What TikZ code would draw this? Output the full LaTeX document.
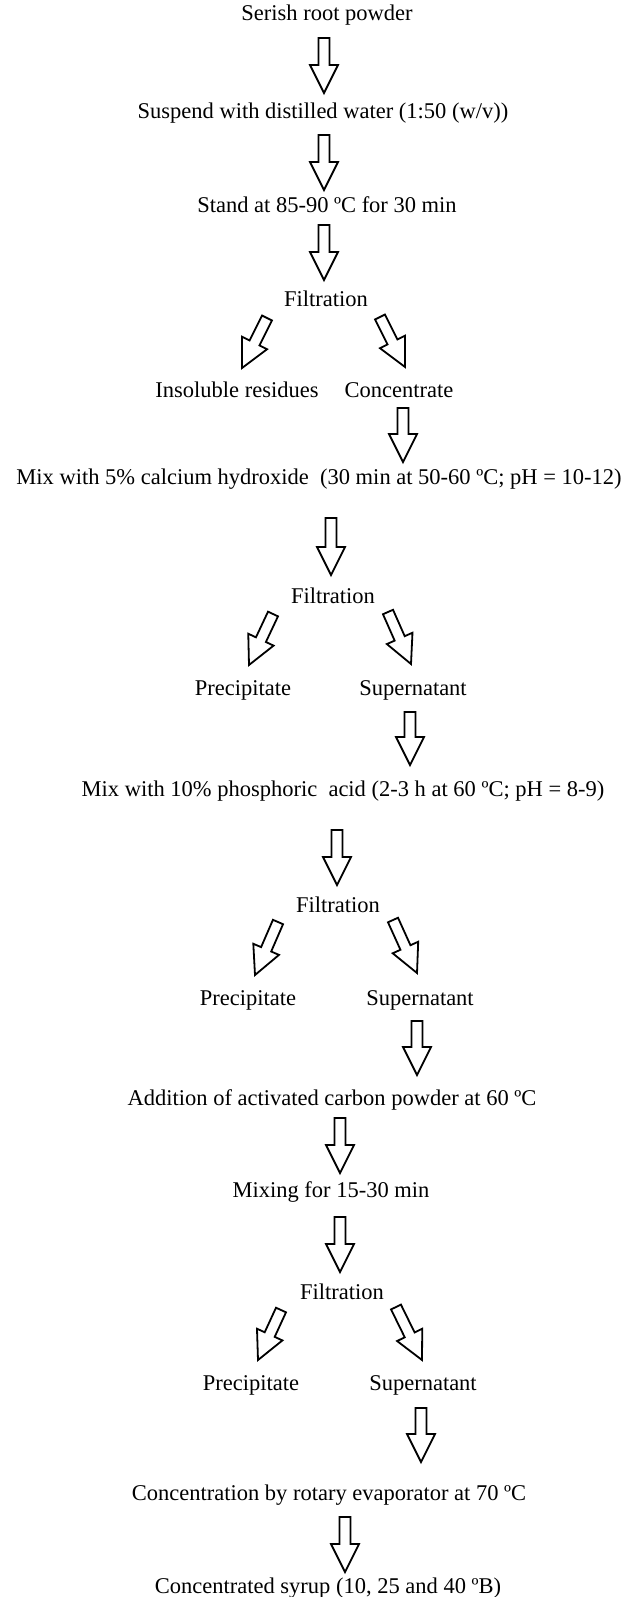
\documentclass[tikz,border=0pt]{standalone}
\usepackage{fontspec}
\setmainfont{Liberation Serif}
\usetikzlibrary{
	calc,
	positioning}
\tikzset{
	flow chart/.style={
		x=1pt, y=-1pt,
		every node/.style={
			font=\fontsize{22.5}{27}\selectfont,
			inner sep=0pt,
			anchor=base}
		},
	shaft width/.store in=\swidth,
	shaft width = 5.5pt,
	head width/.store in=\hwidth,
	head width = 14pt,
	head length/.store in=\hlength,
	head length = 28pt,
	block arrow/.style={
		draw,
		line width=1.8pt,
		line join=miter,
		to path={
			($(\tikztostart)!\swidth!90:(\tikztotarget)$)
			-- ($(\tikztotarget)!\hlength!(\tikztostart)!\swidth!-90:(\tikztostart)$)
			-- ($(\tikztotarget)!\hlength!(\tikztostart)!\hwidth!-90:(\tikztostart)$)
			-- (\tikztotarget)
			-- ($(\tikztotarget)!\hlength!(\tikztostart)!\hwidth!90:(\tikztostart)$)
			-- ($(\tikztotarget)!\hlength!(\tikztostart)!\swidth!90:(\tikztostart)$)
			-- ($(\tikztostart)!\swidth!-90:(\tikztotarget)$)
			-- cycle}
	},
}

\begin{document}
\begin{tikzpicture}[flow chart]
	\useasboundingbox (0,0) rectangle (625,1597);
	% main steps
	\node (s1) at (327,21) {Serish root powder};
	\node (s2) at (323,119) {Suspend with distilled water (1:50 (w/v))};
	\node (s3) at (327,213) {Stand at 85-90 ºC for 30 min};
	\node (f1) at (326,306) {Filtration};
	\node (p1) at (237,397) {Insoluble residues};
	\node (c1) at (399,397) {Concentrate};
	\node (s4) at (319,484) {Mix with 5\% calcium hydroxide \ (30 min at 50-60 ºC; pH = 10-12)};
	\node (f2) at (333,603) {Filtration};
	\node (p2) at (243,695) {Precipitate};
	\node (c2) at (413,695) {Supernatant};
	\node (s5) at (343,796) {Mix with 10\% phosphoric \ acid (2-3 h at 60 ºC; pH = 8-9)};
	\node (f3) at (338,912) {Filtration};
	\node (p3) at (248,1005) {Precipitate};
	\node (c3) at (420,1005) {Supernatant};
	\node (s6) at (332,1105) {Addition of activated carbon powder at 60 ºC};
	\node (s7) at (331,1197) {Mixing for 15-30 min};
	\node (f4) at (342,1299) {Filtration};
	\node (p4) at (251,1390) {Precipitate};
	\node (c4) at (423,1390) {Supernatant};
	\node (s8) at (329,1500) {Concentration by rotary evaporator at 70 ºC};
	\node (s9) at (328,1593) {Concentrated syrup (10, 25 and 40 ºB)};
	% straight arrows
	\foreach \n/\x/\ya/\yb in {1/324/38/93, 2/324/135/190, 3/324/225/280,
		4/403/408/462, 5/331/518/575, 6/410/712/765, 7/337/830/885,
		8/417/1021/1075, 9/340/1118/1173, 10/340/1217/1272,
		11/421/1408/1462, 12/345/1517/1572}{
		\coordinate (a\n) at (\x,\ya);
		\coordinate (b\n) at (\x,\yb);
		\draw[block arrow] (a\n) to (b\n);
	}
	% branch arrows after each filtration
	\foreach \n/\lx/\ly/\lu/\lv/\rx/\ry/\ru/\rv in {
		1/267/318/242/368/380/317/405/367,
		2/273/614/249/665/388/612/411/664,
		3/278/922/255/975/393/920/417/973,
		4/281/1310/258/1360/396/1307/422/1360}{
		\coordinate (l\n) at (\lx,\ly);
		\coordinate (lt\n) at (\lu,\lv);
		\coordinate (r\n) at (\rx,\ry);
		\coordinate (rt\n) at (\ru,\rv);
		\draw[block arrow] (l\n) to (lt\n);
		\draw[block arrow] (r\n) to (rt\n);
	}
\end{tikzpicture}
\end{document}
